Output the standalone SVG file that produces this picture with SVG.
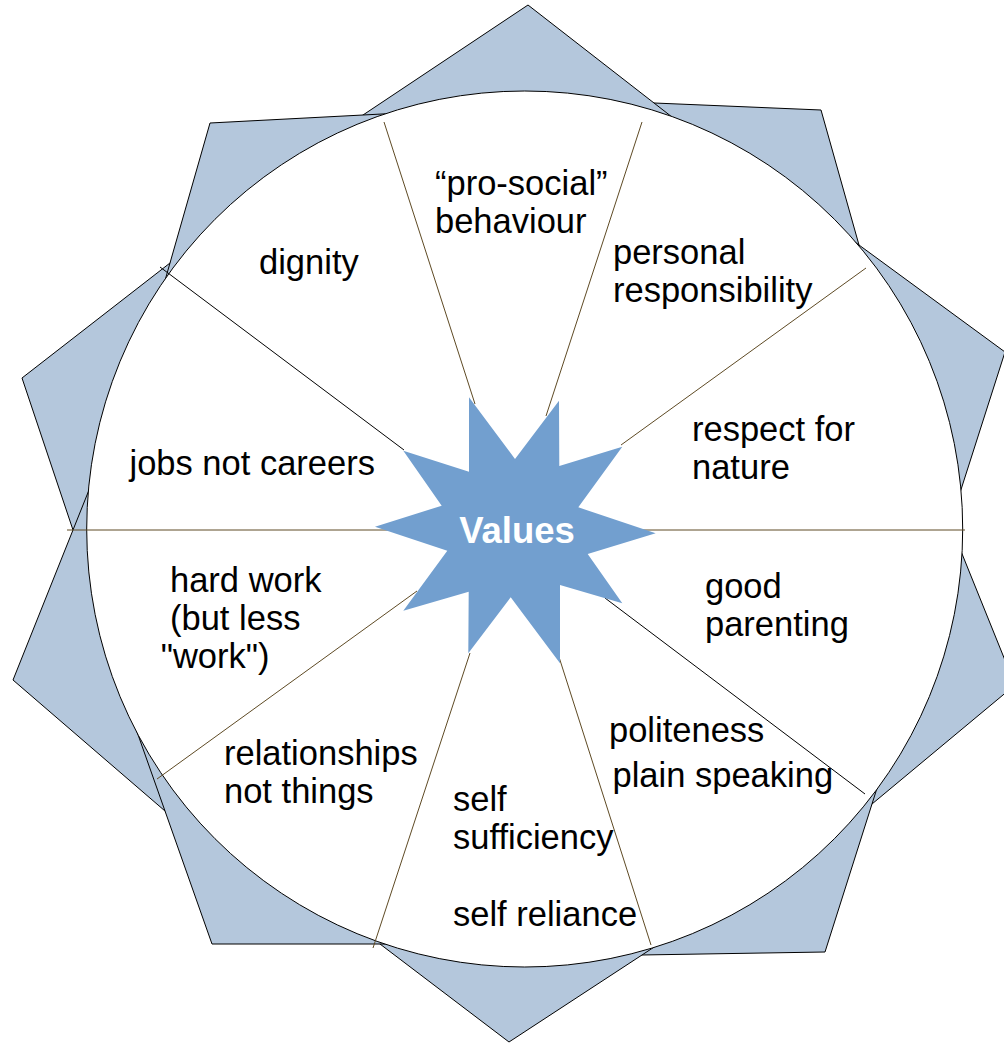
<svg xmlns="http://www.w3.org/2000/svg" width="1004" height="1045" viewBox="0 0 1004 1045">
<style>
.pt{fill:#b4c7dc;stroke:#000;stroke-width:1;stroke-linejoin:miter}
.wheel{fill:#fff;stroke:#000;stroke-width:1}
.br{stroke:#5e4a24;stroke-width:1;fill:none}
.bk{stroke:#000;stroke-width:1;fill:none}
.lbl{font-family:"Liberation Sans",Arial,sans-serif;font-size:34.5px;fill:#000}
.core{font-family:"Liberation Sans",Arial,sans-serif;font-size:36.5px;font-weight:bold;fill:#fff}
</style>
<rect width="1004" height="1045" fill="#fff"/>
<g id="rosette">
<polygon class="pt" points="821,110 874.2,299 524.7,529 587.2,100.2"/>
<polygon class="pt" points="1005,352 928,592.8 524.7,529 800.6,202.2"/>
<polygon class="pt" points="1015,685 814.8,851.6 524.7,529 924,459.6"/>
<polygon class="pt" points="825,952 568.8,956.2 524.7,529 890.8,744.8"/>
<polygon class="pt" points="509,1042 328.4,904.8 524.7,529 695.2,920.2"/>
<polygon class="pt" points="22,378 229.2,217 524.7,529 93.4,590.8"/>
<polygon class="pt" points="13,680 97,470 524.7,529 225.8,863.4"/>
<polygon class="pt" points="212,944 127.4,704.6 524.7,529 447.2,944"/>
<polygon class="pt" points="528,5 704.4,142.2 524.7,529 297,159"/>
<polygon class="pt" points="210,123 424.2,111.8 524.7,529 154,319"/>
</g>
<g id="wheel">
<circle class="wheel" cx="524.7" cy="529" r="438"/>
</g>
<g id="connectors">
<line class="br" x1="384" y1="122" x2="475" y2="404"/>
<line class="br" x1="642" y1="122" x2="546" y2="416"/>
<line class="br" x1="866" y1="268" x2="621" y2="445"/>
<line class="bk" x1="160" y1="267" x2="404" y2="450"/>
<line class="br" x1="67" y1="530" x2="965" y2="530"/>
<line class="bk" x1="605" y1="598" x2="865" y2="794"/>
<line class="br" x1="559" y1="657" x2="651" y2="945"/>
<line class="br" x1="470" y1="653" x2="373" y2="948"/>
<line class="br" x1="417" y1="591" x2="157" y2="779"/>
</g>
<g id="values">
<polygon fill="#729fcf" points="469,397.3 515,459 559,400.7 559.3,466 622.3,446.7 578.3,507.3 655.7,533.3 587.7,554 622.3,603.3 560,585 560,663.3 510.7,597.3 468.3,653.3 468.7,591.7 403.3,610.7 447.3,550.7 375,526.7 441.7,505.7 403.3,450.7 469,471.7"/>
<text class="core" x="517" y="543" text-anchor="middle">Values</text>
</g>
<g id="label-prosocial"><text class="lbl"><tspan x="435" y="194.5">“pro-social”</tspan><tspan x="435" y="232.5">behaviour</tspan></text></g>
<g id="label-personal"><text class="lbl"><tspan x="613" y="263.5">personal</tspan><tspan x="613" y="301.5">responsibility</tspan></text></g>
<g id="label-nature"><text class="lbl"><tspan x="692" y="440.5">respect for</tspan><tspan x="692" y="478.5">nature</tspan></text></g>
<g id="label-parenting"><text class="lbl"><tspan x="705" y="598">good</tspan><tspan x="705" y="636">parenting</tspan></text></g>
<g id="label-politeness"><text class="lbl"><tspan x="609" y="742">politeness</tspan><tspan x="612.5" y="786.5">plain speaking</tspan></text></g>
<g id="label-self"><text class="lbl"><tspan x="453" y="810.5">self</tspan><tspan x="453" y="848.5">sufficiency</tspan><tspan x="453" y="925.5">self reliance</tspan></text></g>
<g id="label-relationships"><text class="lbl"><tspan x="224" y="764.5">relationships</tspan><tspan x="224" y="802.5">not things</tspan></text></g>
<g id="label-hardwork"><text class="lbl"><tspan x="170" y="592">hard work</tspan><tspan x="170" y="630">(but less</tspan><tspan x="160.7" y="668">"work")</tspan></text></g>
<g id="label-jobs"><text class="lbl" x="129.5" y="475">jobs not careers</text></g>
<g id="label-dignity"><text class="lbl" x="259" y="274">dignity</text></g>
</svg>
